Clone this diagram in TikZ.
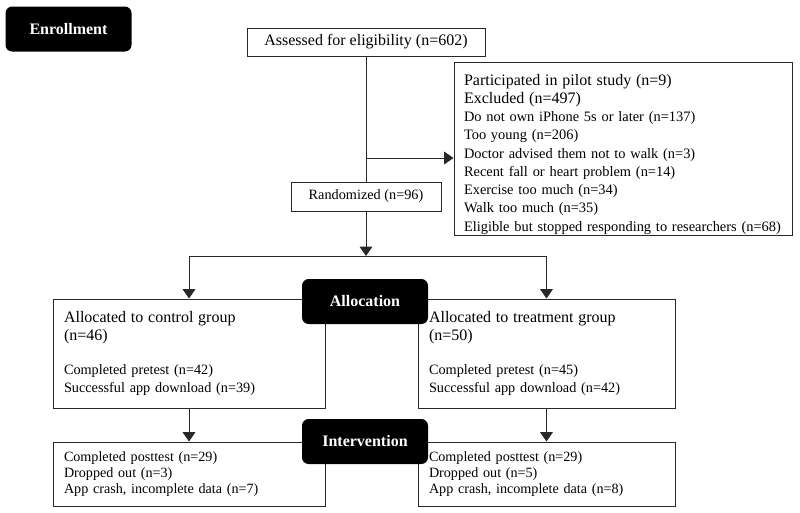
\documentclass[tikz,border=0pt]{standalone}
\usepackage{fontspec}
\setmainfont{Liberation Serif}
\usetikzlibrary{arrows.meta,positioning}
\definecolor{boxline}{RGB}{40,40,40}
\newcommand{\boxbig}{\fontsize{12}{14}\selectfont}
\newcommand{\boxsmall}{\fontsize{10.7}{13}\selectfont}

\begin{document}
\begin{tikzpicture}[x=0.75pt,y=-0.75pt,
    box/.style={draw=boxline, line width=0.75pt, inner xsep=8.25pt, align=left},
    stage/.style={fill=black, rounded corners=5pt, text=white, font=\boxbig\bfseries,
                  minimum width=94.5pt, minimum height=33.75pt},
    link/.style={draw=boxline, line width=0.75pt},
    arr/.style={link, -{Triangle[length=7pt,width=9.5pt]}}]
    \fill[white] (0,0) rectangle (800,512);
    \useasboundingbox (0,0) rectangle (800,512);

    % Enrollment
    \node[stage] (enroll) at (68.5,29) {Enrollment};
    \node[box, align=center, font=\boxbig, minimum width=178.5pt, minimum height=21pt] (assess) at (366,42) {Assessed for eligibility (n=602)};

    % Exclusions
    \node[box, text width=238.5pt, inner xsep=7.5pt, inner ysep=1pt, minimum height=123pt, font={\fontsize{10.8}{13.7}\selectfont}] (excl) at (623,149) {%
        {\boxbig\rule{0pt}{16pt}Participated in pilot study (n=9)}\\
        {\boxbig Excluded (n=497)}\\
        Do not own iPhone 5s or later (n=137)\\
        Too young (n=206)\\
        Doctor advised them not to walk (n=3)\\
        Recent fall or heart problem (n=14)\\
        Exercise too much (n=34)\\
        Walk too much (n=35)\\
        Eligible but stopped responding to researchers (n=68)};

    \node[box, align=center, font=\boxsmall, minimum width=112.5pt, minimum height=21.75pt] (random) at (366,196.5) {Randomized (n=96)};

    % Allocation
    \node[box, text width=187.5pt, minimum height=81.75pt, font=\boxsmall] (ctrl) at (189,353.5) {%
        {\boxbig Allocated to control group}\\
        {\boxbig (n=46)}\\[13pt]
        Completed pretest (n=42)\\
        Successful app download (n=39)};
    \node[box, text width=176.25pt, minimum height=81.75pt, font=\boxsmall] (treat) at (546.5,353.5) {%
        {\boxbig Allocated to treatment group}\\
        {\boxbig (n=50)}\\[13pt]
        Completed pretest (n=45)\\
        Successful app download (n=42)};

    % Intervention
    \node[box, text width=187.5pt, minimum height=48pt, font={\fontsize{10.6}{12}\selectfont}] (ctrlpost) at (189,474) {%
        Completed posttest (n=29)\\
        Dropped out (n=3)\\
        App crash, incomplete data (n=7)};
    \node[box, text width=176.25pt, minimum height=48pt, font={\fontsize{10.6}{12}\selectfont}] (treatpost) at (546.5,474) {%
        Completed posttest (n=29)\\
        Dropped out (n=5)\\
        App crash, incomplete data (n=8)};

    % Connectors
    \coordinate (split) at (366,158);
    \coordinate (fork) at (366,256);
    \draw[link] (assess) -- (random);
    \draw[arr] (split) -- (split -| excl.west);
    \draw[arr] (random) -- (fork);
    \draw[arr] (fork) -| (ctrl.north);
    \draw[arr] (fork) -| (treat.north);
    \draw[arr] (ctrl) -- (ctrlpost);
    \draw[arr] (treat) -- (treatpost);

    % Stage labels on top
    \node[stage] (alloc) at (365,301.5) {Allocation};
    \node[stage] (interv) at (365,441.5) {Intervention};
\end{tikzpicture}
\end{document}
